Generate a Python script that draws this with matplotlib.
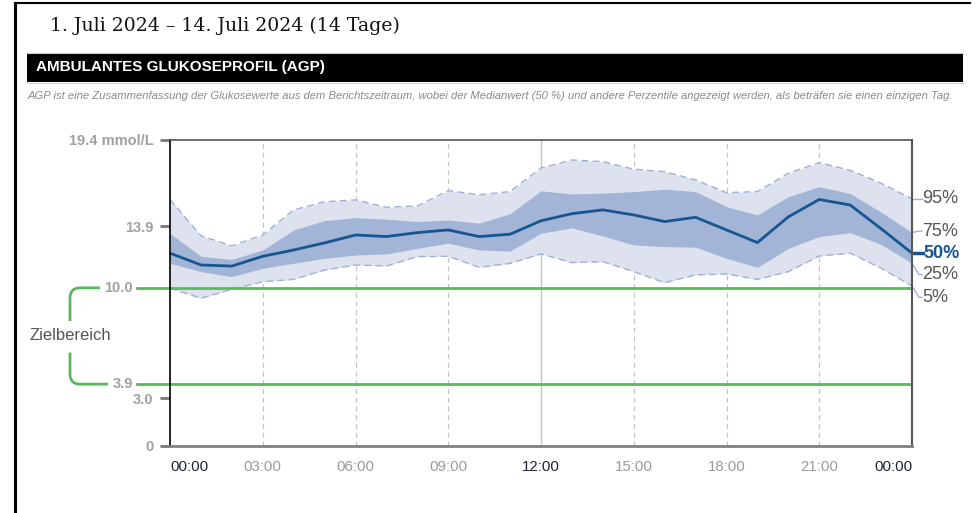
import matplotlib
matplotlib.use("Agg")
import matplotlib.pyplot as plt
from matplotlib.path import Path
from matplotlib.patches import PathPatch, Rectangle
from matplotlib import transforms

# hours of the day (mmol/L)
hours = list(range(25))
p50 = [12.2, 11.45, 11.38, 12.0, 12.4, 12.85, 13.35, 13.25, 13.5, 13.67, 13.25, 13.4, 14.25,
       14.7, 14.94, 14.62, 14.2, 14.47, 13.67, 12.87, 14.5, 15.6, 15.25, 13.75, 12.2]
p75 = [13.45, 12.0, 11.8, 12.4, 13.67, 14.26, 14.45, 14.35, 14.2, 14.3, 14.1, 14.7, 16.15,
       15.95, 16.0, 16.1, 16.25, 16.1, 15.15, 14.62, 15.78, 16.41, 15.98, 14.8, 13.5]
p25 = [11.56, 11.03, 10.71, 11.24, 11.56, 11.87, 12.08, 12.15, 12.5, 12.83, 12.4, 12.33, 13.46,
       13.8, 13.29, 12.72, 12.61, 12.58, 11.87, 11.3, 12.5, 13.25, 13.5, 12.75, 11.56]
p95 = [15.6, 13.3, 12.66, 13.35, 14.94, 15.46, 15.57, 15.11, 15.19, 16.16, 15.9, 16.1, 17.6,
       18.1, 18.0, 17.52, 17.36, 16.84, 16.03, 16.1, 17.26, 17.93, 17.45, 16.63, 15.65]
p5 = [9.97, 9.34, 9.91, 10.39, 10.54, 11.13, 11.45, 11.39, 11.98, 12.0, 11.3, 11.55, 12.15,
      11.6, 11.66, 11.03, 10.33, 10.82, 10.88, 10.54, 11.03, 12.02, 12.2, 11.24, 10.12]

target_low = 3.9
target_high = 10.0
y_max = 19.4
y_ticks = [0, 3.0, 13.9, 19.4]
y_tick_labels = ["0", "3.0", "13.9", "19.4 mmol/L"]
x_ticks = [0, 3, 6, 9, 12, 15, 18, 21, 24]
x_tick_labels = ["00:00", "03:00", "06:00", "09:00", "12:00", "15:00", "18:00", "21:00", "00:00"]
pct_labels = ["95%", "75%", "50%", "25%", "5%"]

W, H = 975, 513
fig = plt.figure(figsize=(W / 100, H / 100), dpi=100)
plt.rcParams["font.family"] = ["Liberation Sans", "DejaVu Sans"]

# page decoration in pixel coordinates
deco = fig.add_axes([0, 0, 1, 1])
deco.set_xlim(0, W)
deco.set_ylim(H, 0)
deco.axis("off")
deco.plot([14.5, 14.5], [2.5, H], color="black", lw=2.2)
deco.plot([14.5, 970], [2.5, 2.5], color="black", lw=1.5)
deco.text(50, 26, "1. Juli 2024 \u2013 14. Juli 2024 (14 Tage)", family=["DejaVu Serif"],
          fontsize=13.6, color="#111111", va="center", ha="left")
deco.add_patch(Rectangle((27, 53), 936, 28.5, color="black", lw=0))
deco.plot([27, 963], [52.5, 52.5], color="#cccccc", lw=0.8)
deco.plot([27, 963], [82.5, 82.5], color="#cccccc", lw=0.8)
deco.text(36, 67.5, "AMBULANTES GLUKOSEPROFIL (AGP)", color="white", fontsize=11,
          fontweight="bold", va="center", ha="left")
deco.text(28, 96, "AGP ist eine Zusammenfassung der Glukosewerte aus dem Berichtszeitraum, wobei der "
          "Medianwert (50 %) und andere Perzentile angezeigt werden, als beträfen sie einen einzigen Tag.",
          color="#8a8a8a", fontsize=8.15, style="italic", va="center", ha="left")

ax = fig.add_axes([170 / W, 1 - 445.7 / H, 742 / W, (445.7 - 139.5) / H])
ax.set_xlim(0, 24)
ax.set_ylim(0, y_max)

outer = "#dde2ee"
inner = "#a3b5d6"
edge = "#9fb1d6"
median_c = "#165592"
green = "#5cb85c"

for h in x_ticks[1:-1]:
    if h == 12:
        ax.axvline(h, color="#c4c4c4", lw=1, zorder=1)
    else:
        ax.axvline(h, color="#c4c4c4", lw=0.9, ls=(0, (4, 3)), zorder=1)

ax.fill_between(hours, p5, p95, color=outer, lw=0, zorder=2)
ax.fill_between(hours, p25, p75, color=inner, lw=0, zorder=3)
ax.plot(hours, p95, color=edge, lw=1, ls=(0, (5, 3)), zorder=4)
ax.plot(hours, p5, color=edge, lw=1, ls=(0, (5, 3)), zorder=4)
ax.plot(hours, p50, color=median_c, lw=2, zorder=6, solid_joinstyle="round")

# target range lines
for v in (target_high, target_low):
    ax.axhline(v, color=green, lw=2, zorder=5)

# bracket + labels left of the axis (x in axes fraction, y in data)
bt = transforms.blended_transform_factory(ax.transAxes, ax.transData)
px = 1 / 742.0
py = 1 / 15.78
xl = -100 * px
r_x = 10 * px
r_y = 10 * py
ax.add_patch(PathPatch(Path([(-70 * px, target_high), (xl + r_x, target_high), (xl, target_high),
                             (xl, target_high - r_y), (xl, target_high - 2.1)],
                            [Path.MOVETO, Path.LINETO, Path.CURVE3, Path.CURVE3, Path.LINETO]),
                       transform=bt, fill=False, edgecolor=green, lw=2, clip_on=False))
ax.add_patch(PathPatch(Path([(xl, target_low + 2.0), (xl, target_low + r_y), (xl, target_low),
                             (xl + r_x, target_low), (-62 * px, target_low)],
                            [Path.MOVETO, Path.LINETO, Path.CURVE3, Path.CURVE3, Path.LINETO]),
                       transform=bt, fill=False, edgecolor=green, lw=2, clip_on=False))
ax.plot([-33 * px, 0], [target_high, target_high], color=green, lw=2, transform=bt, clip_on=False)
ax.plot([-33 * px, 0], [target_low, target_low], color=green, lw=2, transform=bt, clip_on=False)
ax.text(-51.5 * px, target_high, "10.0", transform=bt, ha="center", va="center", fontsize=10.5,
        fontweight="bold", color="#a0a0a0")
ax.text(-47.5 * px, target_low, "3.9", transform=bt, ha="center", va="center", fontsize=10.5,
        fontweight="bold", color="#a0a0a0")
ax.text(xl, (target_low + target_high) / 2 + 0.05, "Zielbereich", transform=bt, ha="center",
        va="center", fontsize=12, color="#555555")

# axes styling
for s in ("top", "right", "bottom", "left"):
    ax.spines[s].set_zorder(7)
ax.spines["left"].set_color("black")
ax.spines["left"].set_linewidth(1.2)
ax.spines["top"].set_color("#555555")
ax.spines["top"].set_linewidth(1.2)
ax.spines["right"].set_color("#555555")
ax.spines["right"].set_linewidth(1.5)
ax.spines["bottom"].set_color("#808080")
ax.spines["bottom"].set_linewidth(2)

ax.set_yticks(y_ticks)
ax.set_yticklabels(y_tick_labels)
ax.tick_params(axis="y", length=7, width=2, color="#777777", pad=5, labelsize=10.5,
               labelcolor="#a0a0a0")
for lab in ax.get_yticklabels():
    lab.set_fontweight("bold")
ax.set_xticks(x_ticks)
ax.set_xticklabels(x_tick_labels)
ax.tick_params(axis="x", length=0, pad=10, labelsize=10.8, labelcolor="#9a9a9a")
xl_objs = ax.get_xticklabels()
for i in (0, 4, 8):
    xl_objs[i].set_color("#1c2433")
xl_objs[0].set_ha("left")
xl_objs[-1].set_ha("right")

# percentile labels on the right
ends = [p95[-1], p75[-1], p50[-1], p25[-1], p5[-1]]
label_y = [p95[-1], p75[-1] + 0.1, p50[-1], p25[-1] - 0.72, p5[-1] - 0.72]
for lab, yv, ly in zip(pct_labels, ends, label_y):
    if lab == "50%":
        ax.plot([1, 1 + 11 * px], [yv, yv], color=median_c, lw=2.5, transform=bt, clip_on=False)
        ax.text(1 + 11 * px, ly, lab, transform=bt, va="center", ha="left", fontsize=13,
                fontweight="bold", color=median_c)
    else:
        ax.plot([1, 1 + 7 * px, 1 + 10 * px], [yv, ly, ly], color=edge, lw=1, transform=bt,
                clip_on=False)
        ax.text(1 + 10 * px, ly, lab, transform=bt, va="center", ha="left", fontsize=13,
                color="#555555")

fig.savefig("out.png", dpi=100)
